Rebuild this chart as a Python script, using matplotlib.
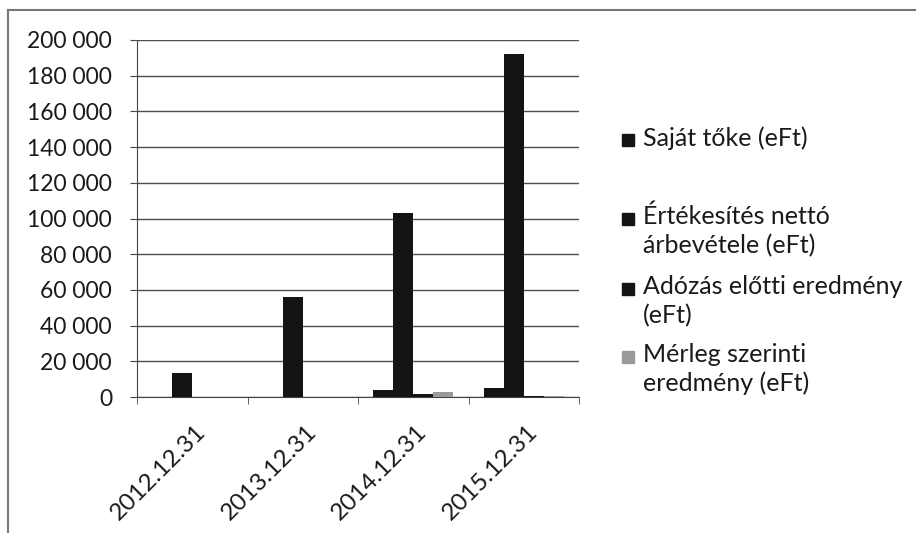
import matplotlib.pyplot as plt
import matplotlib.ticker as mticker
import matplotlib.transforms as mtransforms
from matplotlib.patches import Rectangle
from matplotlib.lines import Line2D
import numpy as np

plt.rcParams['font.family'] = ['Lato', 'DejaVu Sans']

categories = ['2012.12.31', '2013.12.31', '2014.12.31', '2015.12.31']
series_names = ['Saját tőke (eFt)', 'Értékesítés nettó\nárbevétele (eFt)',
                'Adózás előtti eredmény\n(eFt)', 'Mérleg szerinti\neredmény (eFt)']
sajat_toke = [0, 0, 4100, 4900]
ertekesites = [13700, 56000, 103300, 192400]
adozas_elotti = [0, 0, 1500, 600]
merleg_szerinti = [0, 0, 2800, 300]
colors = ['#141414', '#141414', '#141414', '#9a9a9a']

W, H = 916, 533
fig = plt.figure(figsize=(W / 100, H / 100), dpi=100)
# axes box in pixels: left 137, right 579, top 40, bottom 397
ax = fig.add_axes([137 / W, 1 - 397 / H, (579 - 137) / W, (397 - 40) / H])

x = np.arange(len(categories))
w = 1 / 5.5
data = [sajat_toke, ertekesites, adozas_elotti, merleg_szerinti]
for i, vals in enumerate(data):
    ax.bar(x + (i - 1.5) * w, vals, width=w, color=colors[i], zorder=3)

ax.set_xlim(-0.5, len(categories) - 0.5)
ax.set_ylim(0, 200000)
ax.yaxis.set_major_locator(mticker.MultipleLocator(20000))
ax.yaxis.set_major_formatter(mticker.FuncFormatter(lambda v, p: f'{int(v):,}'.replace(',', ' ')))
ax.grid(axis='y', color='#505050', lw=1, zorder=0)

ax.set_xticks(x)
ax.set_xticklabels(categories, rotation=45, ha='right', va='top', rotation_mode='anchor')
ax.set_xticks(np.arange(len(categories) + 1) - 0.5, minor=True)
ax.tick_params(axis='x', which='major', length=0, pad=17, labelsize=17.5, labelcolor='#1a1a1a')
ax.tick_params(axis='x', which='minor', length=5, direction='out', color='#444')
ax.tick_params(axis='y', length=5, direction='out', color='#444', labelsize=16.5,
               labelcolor='#1a1a1a', pad=13)
shift = mtransforms.ScaledTranslation(3 / 100, 0, fig.dpi_scale_trans)
for lbl in ax.get_xticklabels():
    lbl.set_transform(lbl.get_transform() + shift)

for s in ['top', 'right']:
    ax.spines[s].set_visible(False)
ax.spines['left'].set_color('#444')
ax.spines['bottom'].set_color('#444')

# legend drawn by hand, marker aligned with first text line like Excel
leg_y = [141, 220, 290, 358]
for name, c, yy in zip(series_names, colors, leg_y):
    fig.add_artist(Rectangle((622 / W, 1 - (yy + 5) / H), 12 / W, 12 / H,
                             transform=fig.transFigure, color=c))
    fig.text(643 / W, 1 - (yy - 15) / H, name, fontsize=18, color='#1a1a1a',
             va='top', ha='left', linespacing=1.3)

# chart frame (top and left edges visible)
fig.add_artist(Line2D([8 / W, 8 / W], [0, 1 - 10 / H], transform=fig.transFigure,
                      color='#777', lw=1.5))
fig.add_artist(Line2D([8 / W, 1], [1 - 10 / H, 1 - 10 / H], transform=fig.transFigure,
                      color='#777', lw=1.5))

fig.savefig('out.png', dpi=100)
